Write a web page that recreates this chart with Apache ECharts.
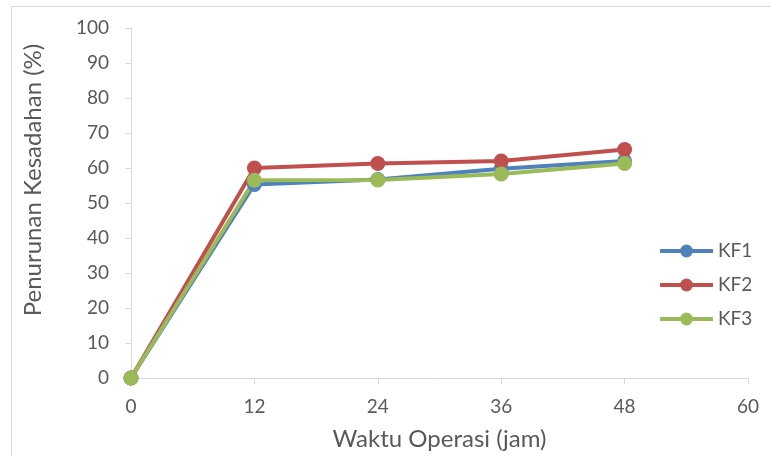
<!DOCTYPE html>
<html>
<head>
<meta charset="utf-8">
<script src="https://cdn.jsdelivr.net/npm/echarts@6/dist/echarts.min.js"></script>
<style>html,body{margin:0;padding:0;background:#fff}#c{width:771px;height:456px}</style>
</head>
<body>
<div id="c"></div>
<script>
var hours = [0, 12, 24, 36, 48];
var kf1 = [0, 55.3, 56.7, 59.8, 62.0];
var kf2 = [0, 60.0, 61.3, 62.0, 65.3];
var kf3 = [0, 56.5, 56.6, 58.3, 61.3];
var seriesNames = ['KF1', 'KF2', 'KF3'];
var colors = ['#4F81BD', '#C0504D', '#9BBB59'];
var xTitle = 'Waktu Operasi (jam)';
var yTitle = 'Penurunan Kesadahan (%)';

var FONT = 'Lato, "Liberation Sans", sans-serif';
function pairs(v){ return hours.map(function(h,i){ return [h, v[i]]; }); }
var chart = echarts.init(document.getElementById('c'), null, {renderer:'canvas'});
var data = [kf1, kf2, kf3];
chart.setOption({
  animation:false,
  textStyle:{fontFamily:FONT},
  graphic:[
    {type:'rect', shape:{x:11.5,y:6.5,width:762,height:460}, style:{fill:'none', stroke:'#d9d9d9', lineWidth:1}},
    {type:'text', x:33, y:180, rotation:Math.PI/2,
     style:{text:yTitle, fontSize:24, fontFamily:FONT, fill:'#595959', align:'center', verticalAlign:'middle'}}
  ],
  grid:{left:131, right:23, top:28, bottom:78},
  legend:{
    orient:'vertical', left:653, top:236, itemGap:14, itemWidth:53, itemHeight:16,
    data:seriesNames,
    lineStyle:{width:4},
    textStyle:{fontSize:19, lineHeight:20, color:'#595959', fontFamily:FONT}
  },
  xAxis:{
    type:'value', min:0, max:60, interval:12,
    name:xTitle, nameLocation:'middle', nameGap:49,
    nameTextStyle:{fontSize:24, color:'#595959', fontFamily:FONT},
    axisLine:{lineStyle:{color:'#d9d9d9', width:1}},
    axisTick:{show:true, length:6, lineStyle:{color:'#d9d9d9'}},
    axisLabel:{fontSize:19, color:'#595959', margin:19, fontFamily:FONT},
    splitLine:{show:false}
  },
  yAxis:{
    type:'value', min:0, max:100, interval:10,
    axisLine:{show:true, lineStyle:{color:'#d9d9d9', width:1}},
    axisTick:{show:true, inside:false, length:6, lineStyle:{color:'#d9d9d9'}},
    axisLabel:{fontSize:19, color:'#595959', margin:22, fontFamily:FONT},
    splitLine:{show:false}
  },
  series: seriesNames.map(function(n,i){
    return {
      name:n, type:'line', data:pairs(data[i]),
      symbol:'circle', symbolSize:15,
      itemStyle:{color:colors[i]},
      lineStyle:{color:colors[i], width:4}
    };
  })
});
</script>
</body>
</html>
